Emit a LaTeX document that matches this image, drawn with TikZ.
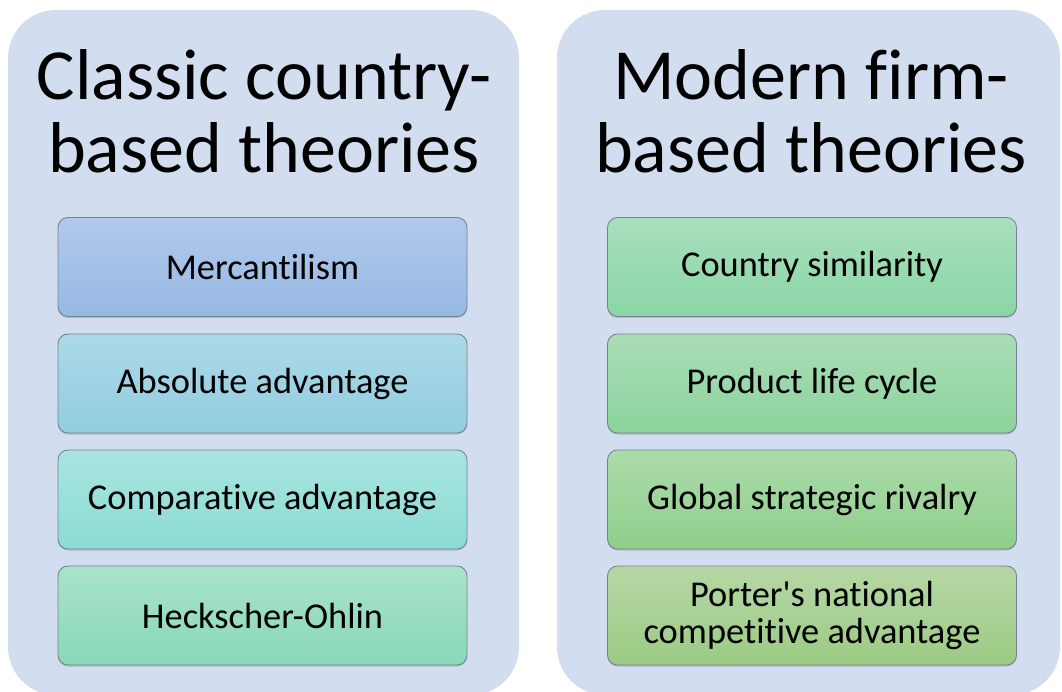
\documentclass[tikz,border=0pt]{standalone}
\usepackage{fontspec}
\setmainfont{Carlito}[Ligatures={NoCommon}]
\usetikzlibrary{shadows}
\definecolor{panelfill}{RGB}{210,222,239}
\definecolor{boxline}{RGB}{118,132,146}
\definecolor{shadowc}{RGB}{150,160,175}
\definecolor{mA}{RGB}{177,201,235}\definecolor{mB}{RGB}{150,185,228}
\definecolor{aA}{RGB}{172,217,231}\definecolor{aB}{RGB}{145,205,224}
\definecolor{cA}{RGB}{169,229,225}\definecolor{cB}{RGB}{139,220,211}
\definecolor{hA}{RGB}{169,227,202}\definecolor{hB}{RGB}{137,216,184}
\definecolor{sA}{RGB}{169,223,190}\definecolor{sB}{RGB}{137,214,165}
\definecolor{pA}{RGB}{170,221,182}\definecolor{pB}{RGB}{139,211,156}
\definecolor{gA}{RGB}{172,219,170}\definecolor{gB}{RGB}{143,207,139}
\definecolor{nA}{RGB}{182,215,165}\definecolor{nB}{RGB}{155,203,132}
\tikzset{
  panel/.style={fill=panelfill, draw=none, rounded corners=48pt},
  titletext/.style={font=\fontsize{72}{73}\selectfont, align=center, inner sep=0pt, anchor=base},
  theory/.style n args={2}{draw=boxline, line width=0.9pt, rounded corners=10pt,
    top color=#1, bottom color=#2, minimum width=409pt, minimum height=99pt,
    inner sep=0pt, align=center, font=\fontsize{36.4}{37}\selectfont,
    drop shadow={shadow xshift=0pt, shadow yshift=-1.5pt, fill=shadowc, opacity=0.6}}
}
\begin{document}
\begin{tikzpicture}[x=1pt,y=-1pt]
\useasboundingbox (0,0) rectangle (1062,692);
\fill[white] (0,0) rectangle (1062,692);
\begin{scope}
\clip (0,0) rectangle (1062,692);
\fill[panel] (8,10) rectangle (519,695);
\fill[panel] (557,10) rectangle (1060,695);
\end{scope}
\node[titletext] (lt) at (264,173) {Classic country-\\based theories};
\node[titletext] (rt) at (811,173) {Modern firm-\\based theories};
\node[theory={mA}{mB}] (l1) at (262.5,267) {Mercantilism};
\node[theory={aA}{aB}] (l2) at (262.5,383.5) {Absolute advantage};
\node[theory={cA}{cB}] (l3) at (262.5,499.5) {Comparative advantage};
\node[theory={hA}{hB}] (l4) at (262.5,615.5) {Heckscher-Ohlin};
\node[theory={sA}{sB}] (r1) at (812,267) {Country similarity};
\node[theory={pA}{pB}] (r2) at (812,383.5) {Product life cycle};
\node[theory={gA}{gB}] (r3) at (812,499.5) {Global strategic rivalry};
\node[theory={nA}{nB}] (r4) at (812,615.5) {Porter\textquotesingle s national\\competitive advantage};
\end{tikzpicture}
\end{document}
